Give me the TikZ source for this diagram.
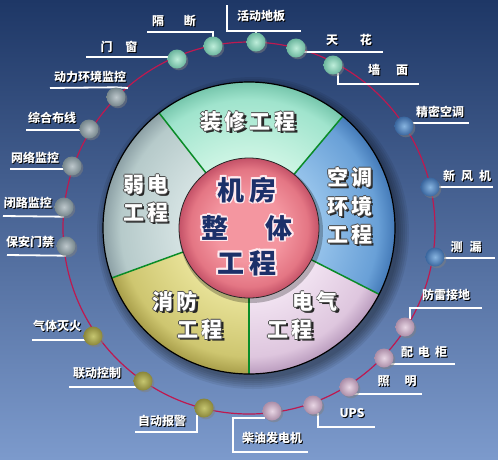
\documentclass[tikz,border=0pt]{standalone}
\usepackage{fontspec}
\setmainfont{Noto Sans CJK SC}
\usetikzlibrary{shadows}
\definecolor{bgtop}{RGB}{30,55,102}
\definecolor{bgmid}{RGB}{58,90,148}
\definecolor{bgbot}{RGB}{124,154,204}
\definecolor{ringred}{RGB}{190,25,80}
\definecolor{seggreen}{RGB}{10,140,40}
\definecolor{navy}{RGB}{28,48,105}
\definecolor{glowc}{RGB}{255,235,240}
\definecolor{zxA}{RGB}{205,245,228}\definecolor{zxB}{RGB}{160,228,205}\definecolor{zxC}{RGB}{118,198,172}
\definecolor{ktA}{RGB}{150,195,235}\definecolor{ktB}{RGB}{105,160,215}\definecolor{ktC}{RGB}{68,122,184}
\definecolor{dqA}{RGB}{242,228,242}\definecolor{dqB}{RGB}{222,198,222}\definecolor{dqC}{RGB}{186,156,190}
\definecolor{xfA}{RGB}{232,226,152}\definecolor{xfB}{RGB}{206,198,112}\definecolor{xfC}{RGB}{168,158,74}
\definecolor{rdA}{RGB}{212,226,226}\definecolor{rdB}{RGB}{182,202,202}\definecolor{rdC}{RGB}{140,160,165}
\definecolor{pkA}{RGB}{244,150,160}\definecolor{pkB}{RGB}{228,118,132}\definecolor{pkC}{RGB}{196,82,104}
\pgfdeclareradialshading{shZX}{\pgfpointorigin}{color(0bp)=(zxA); color(12bp)=(zxA); color(22bp)=(zxB); color(25bp)=(zxC); color(50bp)=(zxC)}
\pgfdeclareradialshading{shKT}{\pgfpointorigin}{color(0bp)=(ktA); color(12bp)=(ktA); color(22bp)=(ktB); color(25bp)=(ktC); color(50bp)=(ktC)}
\pgfdeclareradialshading{shDQ}{\pgfpointorigin}{color(0bp)=(dqA); color(12bp)=(dqA); color(22bp)=(dqB); color(25bp)=(dqC); color(50bp)=(dqC)}
\pgfdeclareradialshading{shXF}{\pgfpointorigin}{color(0bp)=(xfA); color(12bp)=(xfA); color(22bp)=(xfB); color(25bp)=(xfC); color(50bp)=(xfC)}
\pgfdeclareradialshading{shRD}{\pgfpointorigin}{color(0bp)=(rdA); color(12bp)=(rdA); color(22bp)=(rdB); color(25bp)=(rdC); color(50bp)=(rdC)}
\pgfdeclareradialshading{shPK}{\pgfpointorigin}{color(0bp)=(pkA); color(12bp)=(pkA); color(21bp)=(pkB); color(25bp)=(pkC); color(50bp)=(pkC)}
\newcommand{\offbox}[3]{\makebox[0pt][l]{\hspace*{#1}\raisebox{#2}{#3}}}
\newcommand{\sh}[1]{\offbox{1pt}{-1pt}{\color{black}#1}{\color{white}#1}}
\newcommand{\segsh}[1]{\offbox{2.2pt}{-2.2pt}{\color{black!85}#1}\offbox{0.8pt}{0pt}{\color{black!70}#1}\offbox{-0.8pt}{0pt}{\color{black!70}#1}\offbox{0pt}{0.8pt}{\color{black!70}#1}\offbox{0pt}{-0.8pt}{\color{black!70}#1}{\color{white}#1}}
\newcommand{\glow}[1]{\offbox{1.6pt}{0pt}{\color{glowc}#1}\offbox{-1.6pt}{0pt}{\color{glowc}#1}\offbox{0pt}{1.6pt}{\color{glowc}#1}\offbox{0pt}{-1.6pt}{\color{glowc}#1}\offbox{1.2pt}{1.2pt}{\color{glowc}#1}\offbox{-1.2pt}{1.2pt}{\color{glowc}#1}\offbox{1.2pt}{-1.2pt}{\color{glowc}#1}\offbox{-1.2pt}{-1.2pt}{\color{glowc}#1}{\color{navy}#1}}
\newcommand{\sect}[3]{\begin{scope}\clip (c) -- ++(-#2:146) arc[start angle=-#2, end angle=-#3, radius=146] -- cycle; \shade[shading=#1] (c) circle[radius=146];\end{scope}}
\pgfdeclarelayer{back}\pgfdeclarelayer{lines}\pgfsetlayers{back,lines,main}
\tikzset{
  lead/.style={draw=white, line width=1.8pt},
  ring/.style={draw=ringred, line width=1.2pt},
  segline/.style={draw=seggreen, line width=1.5pt},
  dot/.style={circle, minimum size=19pt, inner sep=0pt, drop shadow={opacity=0.5, shadow xshift=1.8pt, shadow yshift=-1.8pt}},
  dmint/.style={dot, inner color={rgb,255:red,190;green,238;blue,218}, outer color={rgb,255:red,108;green,182;blue,158}},
  dgrey/.style={dot, inner color={rgb,255:red,190;green,200;blue,204}, outer color={rgb,255:red,118;green,134;blue,140}},
  dblue/.style={dot, inner color={rgb,255:red,135;green,180;blue,224}, outer color={rgb,255:red,58;green,102;blue,158}},
  dpink/.style={dot, inner color={rgb,255:red,232;green,214;blue,228}, outer color={rgb,255:red,172;green,142;blue,168}},
  dolive/.style={dot, inner color={rgb,255:red,198;green,198;blue,112}, outer color={rgb,255:red,138;green,134;blue,58}},
  lbl/.style={inner sep=0pt, font=\bfseries\fontsize{12}{12}\selectfont},
  segtxt/.style={inner sep=0pt, font=\bfseries\fontsize{21}{21}\selectfont},
  ctxt/.style={inner sep=0pt, font=\bfseries\fontsize{27}{27}\selectfont}
}
\begin{document}
\begin{tikzpicture}[x=1pt,y=-1pt]
\useasboundingbox (0,0) rectangle (498,459);
\coordinate (c) at (249,228);
\begin{pgfonlayer}{back}
\shade[top color=bgtop, middle color=bgmid, bottom color=bgbot] (0,0) rectangle (498,459);
\draw[ring] (c) circle[radius=186];
\foreach \k in {0,2,...,10} \fill[black, opacity=0.07] ([xshift=4pt,yshift=-5pt]c) circle[radius=146+\k];
\sect{shZX}{50}{128}
\sect{shRD}{128}{200}
\sect{shXF}{200}{270}
\sect{shDQ}{270}{333}
\sect{shKT}{333}{410}
\foreach \a in {50,128,200,270,333} \draw[segline] (c) ++(-\a:70) -- ++(-\a:76);
\draw[black, line width=1.2pt] (c) circle[radius=146];
\fill[black, opacity=0.25] ([xshift=2pt,yshift=-3pt]c) circle[radius=72];
\shade[shading=shPK] (c) circle[radius=70];
\draw[black!85, line width=0.8pt] (c) circle[radius=70];
\end{pgfonlayer}

% dots
\node[dmint] (dHDB) at (256,42) {};
\node[dmint] (dGD) at (213,46) {};
\node[dmint] (dMC) at (177,59) {};
\node[dgrey] (dDL) at (116,97) {};
\node[dgrey] (dZH) at (89,129) {};
\node[dgrey] (dWL) at (72,166) {};
\node[dgrey] (dBL) at (64,207) {};
\node[dgrey] (dBA) at (66,246) {};
\node[dolive] (dQT) at (93,336) {};
\node[dolive] (dLD) at (143,381) {};
\node[dolive] (dZD) at (204,408) {};
\node[dpink] (dCY) at (272,411) {};
\node[dpink] (dUPS) at (313,405) {};
\node[dpink] (dZM) at (349,387) {};
\node[dpink] (dPD) at (384,358) {};
\node[dpink] (dFL) at (405,327) {};
\node[dblue] (dCL) at (435,257) {};
\node[dblue] (dXF) at (430,187) {};
\node[dblue] (dJM) at (404,126) {};
\node[dmint] (dQM) at (333,65) {};
\node[dmint] (dTH) at (296,48) {};

% leader end points
\coordinate (hdbA) at (227,5);  \coordinate (hdbB) at (301,31);
\coordinate (gdA) at (147,32);
\coordinate (mcA) at (86,57);
\coordinate (dlA) at (50,88);   \coordinate (dlB) at (128,88);
\coordinate (zhA) at (26,130);
\coordinate (wlA) at (10,169);
\coordinate (blA) at (3,216);
\coordinate (baA) at (7,255);
\coordinate (qtA) at (32,340);
\coordinate (ldA) at (69,387);
\coordinate (zdA) at (135,432);
\coordinate (cyA) at (233,452); \coordinate (cyB) at (308,452);
\coordinate (upA) at (375,427);
\coordinate (zmA) at (422,394);
\coordinate (pdA) at (455,364);
\coordinate (flA) at (482,308);
\coordinate (clA) at (495,258);
\coordinate (xfA) at (493,187);
\coordinate (jmA) at (469,123);
\coordinate (qmA) at (419,84);
\coordinate (thA) at (383,52);

\begin{pgfonlayer}{lines}
\draw[lead] (hdbA) |- (hdbB);
\draw[lead] (dHDB.center) -- (dHDB.center |- hdbB);
\draw[lead] (dGD.center) |- (gdA);
\draw[lead] (dMC.center |- mcA) -- (mcA);
\draw[lead] (dlA) -- (dDL.north) -- (dlB);
\draw[lead] (dZH.center |- zhA) -- (zhA);
\draw[lead] (dWL.center |- wlA) -- (wlA);
\draw[lead] (dBL.south) -- (blA);
\draw[lead] (dBA.south) -- (baA);
\draw[lead] (dQT.center |- qtA) -- (qtA);
\draw[lead] (dLD.center |- ldA) -- (ldA);
\draw[lead] (dZD.south west) |- (zdA);
\draw[lead] (dCY.south west) -| (cyA) -- (cyB);
\draw[lead] (dUPS.-60) |- (upA);
\draw[lead] (dZM.center |- zmA) -- (zmA);
\draw[lead] (dPD.center |- pdA) -- (pdA);
\draw[lead] (dFL.60) |- (flA);
\draw[lead] (dCL.center |- clA) -- (clA);
\draw[lead] (dXF.center |- xfA) -- (xfA);
\draw[lead] (dJM.center |- jmA) -- (jmA);
\draw[lead] (dQM.-60) |- (qmA);
\draw[lead] (dTH.center |- thA) -- (thA);
\end{pgfonlayer}

% labels
\node[lbl] (tHDB) at (261,16) {\sh{活动地板}};
\node[lbl] (tGD) at (174,21) {\sh{隔\hspace{20pt}断}};
\node[lbl] (tMC) at (119,47) {\sh{门\hspace{13pt}窗}};
\node[lbl] (tDL) at (90,77) {\sh{动力环境监控}};
\node[lbl] (tZH) at (52,118) {\sh{综合布线}};
\node[lbl] (tWL) at (35,158) {\sh{网络监控}};
\node[lbl] (tBL) at (28,203) {\sh{闭路监控}};
\node[lbl] (tBA) at (30,242) {\sh{保安门禁}};
\node[lbl] (tQT) at (57,326) {\sh{气体灭火}};
\node[lbl] (tLD) at (97,373) {\sh{联动控制}};
\node[lbl] (tZD) at (162,421) {\sh{自动报警}};
\node[lbl] (tCY) at (272,438) {\sh{柴油发电机}};
\node[lbl] (tUPS) at (352,414) {\sh{UPS}};
\node[lbl] (tZM) at (397,382) {\sh{照\hspace{15pt}明}};
\node[lbl] (tPD) at (424,352) {\sh{配\hspace{5pt}电\hspace{5pt}柜}};
\node[lbl] (tFL) at (446,295) {\sh{防雷接地}};
\node[lbl] (tCL) at (466,247) {\sh{测\hspace{7pt}漏}};
\node[lbl] (tXF) at (467,176) {\sh{新\hspace{6pt}风\hspace{6pt}机}};
\node[lbl] (tJM) at (440,112) {\sh{精密空调}};
\node[lbl] (tQM) at (388,70) {\sh{墙\hspace{16pt}面}};
\node[lbl] (tTH) at (349,40) {\sh{天\hspace{22pt}花}};

% segment texts
\node[segtxt] (sZX) at (248,122) {\segsh{装\hspace{4pt}修\hspace{4pt}工\hspace{4pt}程}};
\node[segtxt] (sRD1) at (146,185) {\segsh{弱\hspace{3pt}电}};
\node[segtxt] (sRD2) at (146,213) {\segsh{工\hspace{3pt}程}};
\node[segtxt] (sKT1) at (350,178) {\segsh{空\hspace{3pt}调}};
\node[segtxt] (sKT2) at (350,207) {\segsh{环\hspace{3pt}境}};
\node[segtxt] (sKT3) at (350,235) {\segsh{工\hspace{3pt}程}};
\node[segtxt] (sXF1) at (175,302) {\segsh{消\hspace{4pt}防}};
\node[segtxt] (sXF2) at (200,330) {\segsh{工\hspace{4pt}程}};
\node[segtxt] (sDQ1) at (315,302) {\segsh{电\hspace{4pt}气}};
\node[segtxt] (sDQ2) at (290,330) {\segsh{工\hspace{4pt}程}};

% centre
\node[ctxt] (cT1) at (247,190) {\glow{机\hspace{6pt}房}};
\node[ctxt] (cT2) at (247,228) {\glow{整\hspace{38pt}体}};
\node[ctxt] (cT3) at (247,263) {\glow{工\hspace{6pt}程}};
\end{tikzpicture}
\end{document}
